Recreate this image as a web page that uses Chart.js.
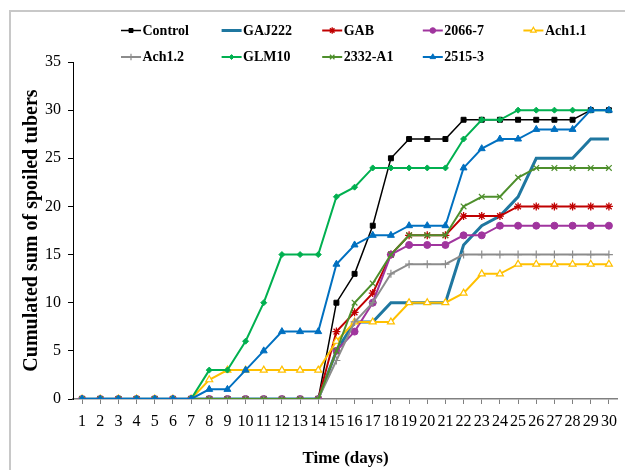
<!DOCTYPE html>
<html>
<head>
<meta charset="utf-8">
<script src="https://cdn.jsdelivr.net/npm/chart.js@4/dist/chart.umd.min.js"></script>
<style>
  html, body { margin: 0; padding: 0; background: #fff; }
  #wrap { position: relative; width: 625px; height: 470px; overflow: hidden; }
  #frame { position: absolute; left: 9px; top: 10px; width: 1000px; height: 1000px; border: 2px solid #c8c8c8; box-sizing: border-box; }
  #c { position: absolute; left: 0; top: 0; }
</style>
</head>
<body>
<div id="wrap">
  <div id="frame"></div>
  <canvas id="c" width="625" height="470"></canvas>
</div>
<script>
const days = ['1','2','3','4','5','6','7','8','9','10','11','12','13','14','15','16','17','18','19','20','21','22','23','24','25','26','27','28','29','30'];
const yTicks = [0, 5, 10, 15, 20, 25, 30, 35];

const control = [0,0,0,0,0,0,0,0,0,0,0,0,0,0,10,13,18,25,27,27,27,29,29,29,29,29,29,29,30,30];
const gaj222  = [0,0,0,0,0,0,0,0,0,0,0,0,0,0,5,8,8,10,10,10,10,16,18,19,21,25,25,25,27,27];
const gab     = [0,0,0,0,0,0,0,0,0,0,0,0,0,0,7,9,11,15,17,17,17,19,19,19,20,20,20,20,20,20];
const s2066_7 = [0,0,0,0,0,0,0,0,0,0,0,0,0,0,5,7,10,15,16,16,16,17,17,18,18,18,18,18,18,18];
const ach1_1  = [0,0,0,0,0,0,0,2,3,3,3,3,3,3,6,8,8,8,10,10,10,11,13,13,14,14,14,14,14,14];
const ach1_2  = [0,0,0,0,0,0,0,0,0,0,0,0,0,0,4,8,10,13,14,14,14,15,15,15,15,15,15,15,15,15];
const glm10   = [0,0,0,0,0,0,0,3,3,6,10,15,15,15,21,22,24,24,24,24,24,27,29,29,30,30,30,30,30,30];
const s2332_a1= [0,0,0,0,0,0,0,0,0,0,0,0,0,0,5,10,12,15,17,17,17,20,21,21,23,24,24,24,24,24];
const s2515_3 = [0,0,0,0,0,0,0,1,1,3,5,7,7,7,14,16,17,17,18,18,18,24,26,27,27,28,28,28,30,30];

const seriesNames = ['Control','GAJ222','GAB','2066-7','Ach1.1','Ach1.2','GLM10','2332-A1','2515-3'];
const seriesData = [control, gaj222, gab, s2066_7, ach1_1, ach1_2, glm10, s2332_a1, s2515_3];
const styles = [
  {c:'#000000', bg:'#000000', w:1.5, ps:'rect', r:3.5, pbw:1},
  {c:'#1F77A0', bg:'#1F77A0', w:3, ps:'circle', r:0, pbw:1},
  {c:'#C00000', bg:'#C00000', w:2, ps:'star', r:4, pbw:1.3},
  {c:'#A0359E', bg:'#A0359E', w:2, ps:'circle', r:3.5, pbw:1},
  {c:'#FFC000', bg:'#FFFFFF', w:2, ps:'triangle', r:4, pbw:1.2},
  {c:'#8C8C8C', bg:'#8C8C8C', w:2, ps:'cross', r:4, pbw:1.2},
  {c:'#00B050', bg:'#00B050', w:2, ps:'rectRot', r:3, pbw:1},
  {c:'#4E8F2C', bg:'#4E8F2C', w:2, ps:'crossRot', r:4, pbw:1.2},
  {c:'#0070C0', bg:'#0070C0', w:2, ps:'triangle', r:4, pbw:1}
];

const datasets = seriesNames.map((name, i) => ({
  label: name,
  data: seriesData[i],
  borderColor: styles[i].c,
  backgroundColor: styles[i].bg,
  borderWidth: styles[i].w,
  pointStyle: styles[i].ps,
  pointRadius: styles[i].r,
  pointHoverRadius: styles[i].r,
  pointBorderWidth: styles[i].pbw,
  pointBorderColor: styles[i].c,
  pointBackgroundColor: styles[i].bg,
  tension: 0,
  order: -i
}));

const SERIF = '"Liberation Serif", "Times New Roman", serif';

const customLegend = {
  id: 'customLegend',
  afterDraw(chart) {
    const ctx = chart.ctx;
    ctx.save();
    chart.data.datasets.forEach((ds, i) => {
      const col = i % 5, row = Math.floor(i / 5);
      const x0 = 121 + col * 100.6;
      const y = row === 0 ? 30.5 : 57;
      ctx.strokeStyle = ds.borderColor;
      ctx.lineWidth = ds.borderWidth;
      ctx.beginPath();
      ctx.moveTo(x0, y);
      ctx.lineTo(x0 + 20, y);
      ctx.stroke();
      if (ds.pointRadius > 0) {
        ctx.fillStyle = ds.pointBackgroundColor;
        ctx.strokeStyle = ds.pointBorderColor;
        ctx.lineWidth = ds.pointBorderWidth;
        if (Chart.helpers && Chart.helpers.drawPoint) {
          Chart.helpers.drawPoint(ctx, {pointStyle: ds.pointStyle, radius: ds.pointRadius * 0.8, rotation: 0, borderWidth: ds.pointBorderWidth}, x0 + 10, y);
        } else {
          ctx.beginPath(); ctx.arc(x0 + 10, y, 3, 0, Math.PI * 2); ctx.fill();
        }
      }
      ctx.fillStyle = '#000';
      ctx.font = 'bold 14px ' + SERIF;
      ctx.textBaseline = 'middle';
      ctx.textAlign = 'left';
      ctx.fillText(ds.label, x0 + 21.5, y + 0.5);
    });
    ctx.restore();
  }
};

new Chart(document.getElementById('c'), {
  type: 'line',
  data: { labels: days, datasets },
  plugins: [customLegend],
  options: {
    responsive: false,
    animation: false,
    events: [],
    layout: { padding: { top: 62, right: 2, left: 0, bottom: 0 } },
    plugins: { legend: { display: false }, tooltip: { enabled: false }, title: { display: false } },
    scales: {
      x: {
        type: 'category',
        offset: true,
        grid: { display: true, drawOnChartArea: false, offset: false, tickLength: 5, color: '#808080', tickColor: '#808080' },
        border: { display: true, color: '#808080', width: 1.5 },
        ticks: { autoSkip: false, maxRotation: 0, minRotation: 0, padding: 8, color: '#000', font: { family: SERIF, size: 16 } },
        title: { display: true, text: 'Time (days)', color: '#000', font: { family: SERIF, size: 17, weight: 'bold', lineHeight: 1 }, padding: { top: 0, bottom: 3 } },
        afterFit(scale) { scale.height = 71; }
      },
      y: {
        min: 0, max: 35,
        afterBuildTicks(scale) { scale.ticks = yTicks.map(v => ({ value: v })); },
        grid: { display: true, drawOnChartArea: false, tickLength: 5, color: '#000', tickColor: '#000' },
        border: { display: true, color: '#000', width: 1 },
        ticks: { padding: 7, color: '#000', font: { family: SERIF, size: 16 } },
        title: { display: true, text: 'Cumulated sum of spoiled tubers', color: '#000', font: { family: SERIF, size: 20, weight: 'bold', lineHeight: 1 }, padding: { top: 22, bottom: 0 } },
        afterFit(scale) { scale.width = 73; }
      }
    }
  }
});
</script>
</body>
</html>
